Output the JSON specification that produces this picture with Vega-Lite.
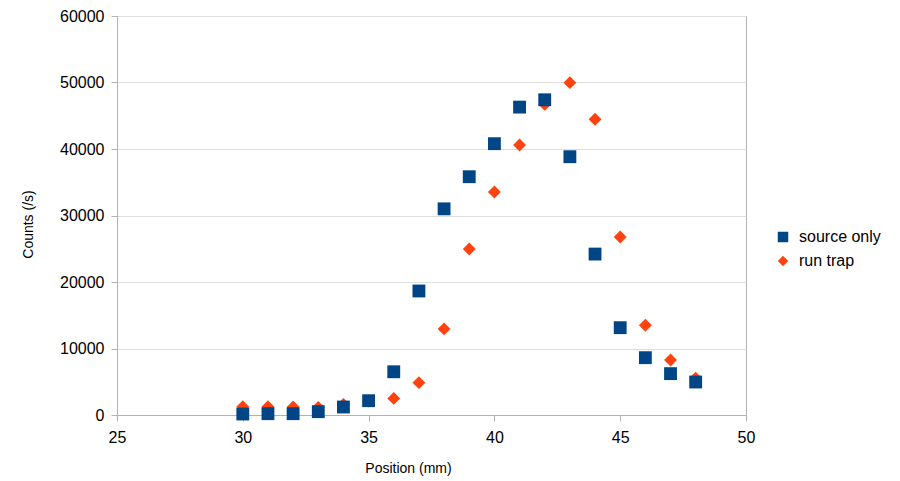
{
  "$schema": "https://vega.github.io/schema/vega-lite/v6.json",
  "width": 629,
  "height": 399,
  "autosize": {"type": "none"},
  "padding": {"left": 117, "top": 16, "right": 154, "bottom": 66},
  "background": "white",
  "config": {
    "font": "Liberation Sans",
    "view": {"stroke": "#b3b3b3", "strokeWidth": 1},
    "axis": {
      "labelFont": "Liberation Sans",
      "titleFont": "Liberation Sans",
      "labelFontSize": 16,
      "titleFontSize": 14,
      "titleFontWeight": "normal",
      "labelColor": "#000000",
      "titleColor": "#000000",
      "domainColor": "#b3b3b3",
      "tickColor": "#b3b3b3",
      "tickSize": 6,
      "gridColor": "#dddddd",
      "labelFlush": false
    },
    "legend": {
      "labelFont": "Liberation Sans",
      "labelFontSize": 16,
      "labelColor": "#000000"
    }
  },
  "data": {
    "values": [
      {"pos": 30, "series": "run trap", "counts": 1250},
      {"pos": 31, "series": "run trap", "counts": 1250},
      {"pos": 32, "series": "run trap", "counts": 1200},
      {"pos": 33, "series": "run trap", "counts": 1150},
      {"pos": 34, "series": "run trap", "counts": 1600},
      {"pos": 35, "series": "run trap", "counts": 2100},
      {"pos": 36, "series": "run trap", "counts": 2500},
      {"pos": 37, "series": "run trap", "counts": 4860},
      {"pos": 38, "series": "run trap", "counts": 12950},
      {"pos": 39, "series": "run trap", "counts": 24960},
      {"pos": 40, "series": "run trap", "counts": 33530},
      {"pos": 41, "series": "run trap", "counts": 40600},
      {"pos": 42, "series": "run trap", "counts": 46700},
      {"pos": 43, "series": "run trap", "counts": 49970},
      {"pos": 44, "series": "run trap", "counts": 44470},
      {"pos": 45, "series": "run trap", "counts": 26770},
      {"pos": 46, "series": "run trap", "counts": 13490},
      {"pos": 47, "series": "run trap", "counts": 8270},
      {"pos": 48, "series": "run trap", "counts": 5550},
      {"pos": 30, "series": "source only", "counts": 150},
      {"pos": 31, "series": "source only", "counts": 200},
      {"pos": 32, "series": "source only", "counts": 200},
      {"pos": 33, "series": "source only", "counts": 500},
      {"pos": 34, "series": "source only", "counts": 1200},
      {"pos": 35, "series": "source only", "counts": 2150},
      {"pos": 36, "series": "source only", "counts": 6500},
      {"pos": 37, "series": "source only", "counts": 18650},
      {"pos": 38, "series": "source only", "counts": 31000},
      {"pos": 39, "series": "source only", "counts": 35830},
      {"pos": 40, "series": "source only", "counts": 40800},
      {"pos": 41, "series": "source only", "counts": 46300},
      {"pos": 42, "series": "source only", "counts": 47400},
      {"pos": 43, "series": "source only", "counts": 38840},
      {"pos": 44, "series": "source only", "counts": 24200},
      {"pos": 45, "series": "source only", "counts": 13130},
      {"pos": 46, "series": "source only", "counts": 8620},
      {"pos": 47, "series": "source only", "counts": 6220},
      {"pos": 48, "series": "source only", "counts": 4960}
    ]
  },
  "mark": {"type": "point", "filled": true, "size": 165, "opacity": 1},
  "encoding": {
    "x": {
      "field": "pos",
      "type": "quantitative",
      "scale": {"domain": [25, 50], "nice": false, "zero": false},
      "axis": {
        "title": "Position (mm)",
        "values": [25, 30, 35, 40, 45, 50],
        "grid": false,
        "labelPadding": 8,
        "titlePadding": 16,
        "titleX": 291
      }
    },
    "y": {
      "field": "counts",
      "type": "quantitative",
      "scale": {"domain": [0, 60000], "nice": false},
      "axis": {
        "title": "Counts (/s)",
        "values": [0, 10000, 20000, 30000, 40000, 50000, 60000],
        "format": "d",
        "labelPadding": 7,
        "titlePadding": 24,
        "titleY": 208
      }
    },
    "color": {
      "field": "series",
      "type": "nominal",
      "scale": {"domain": ["source only", "run trap"], "range": ["#004586", "#ff420e"]},
      "legend": {
        "title": null,
        "orient": "none",
        "legendX": 658,
        "legendY": 213,
        "symbolSize": 110,
        "labelOffset": 8,
        "rowPadding": 8
      }
    },
    "shape": {
      "field": "series",
      "type": "nominal",
      "scale": {"domain": ["source only", "run trap"], "range": ["square", "diamond"]}
    }
  }
}
